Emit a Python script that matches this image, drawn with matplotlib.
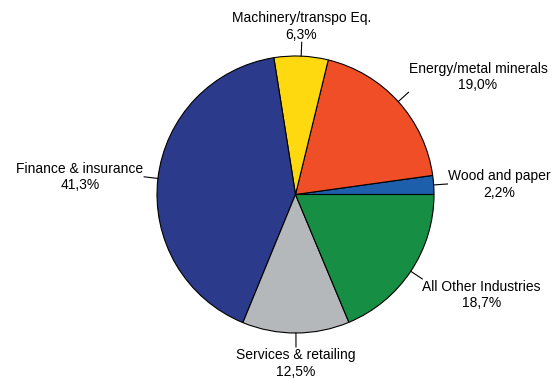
import numpy as np
import matplotlib.pyplot as plt

plt.rcParams['font.family'] = ['Liberation Sans', 'DejaVu Sans']

sectors = ["Wood and paper", "Energy/metal minerals", "Machinery/transpo Eq.",
           "Finance & insurance", "Services & retailing", "All Other Industries"]
shares = [2.2, 19.0, 6.3, 41.3, 12.5, 18.7]
colors = ["#1d5fab", "#f04e26", "#ffd90f", "#2b3a8a", "#b5b8ba", "#168e44"]

# label block centres (data units, pie radius = 1)
label_pos = [(1.473, 0.072), (1.318, 0.848), (0.043, 1.213),
             (-1.556, 0.126), (0.004, -1.22), (1.343, -0.726)]

fig = plt.figure(figsize=(5.54, 3.78), dpi=100)
ax = fig.add_axes([157 / 554, 45 / 378, 277 / 554, 277 / 378])

wedges, _ = ax.pie(shares, colors=colors, startangle=0, counterclock=True,
                   radius=1, wedgeprops=dict(edgecolor="black", linewidth=0.8))
ax.set_xlim(-1, 1)
ax.set_ylim(-1, 1)
ax.set_aspect("equal")
ax.axis("off")

for w, name, val, pos in zip(wedges, sectors, shares, label_pos):
    mid = np.deg2rad((w.theta1 + w.theta2) / 2)
    c, s = np.cos(mid), np.sin(mid)
    # short radial leader
    ax.plot([c, 1.1 * c], [s, 1.1 * s], color="black", lw=0.8, clip_on=False)
    txt = f"{name}\n" + f"{val:.1f}%".replace(".", ",")
    ax.text(pos[0], pos[1], txt, ha="center", va="center",
            fontsize=10, linespacing=1.2, clip_on=False)

fig.savefig("out.png", dpi=100)
